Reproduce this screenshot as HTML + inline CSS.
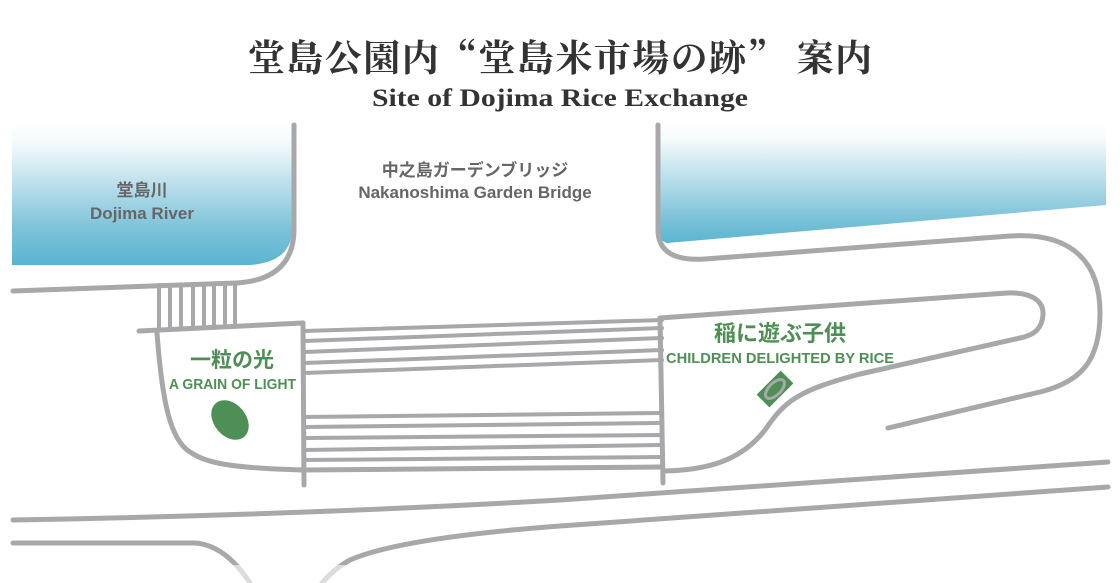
<!DOCTYPE html>
<html><head><meta charset="utf-8"><style>
html,body{margin:0;padding:0;background:#fff;}
svg{display:block;}
</style></head><body>
<svg width="1120" height="583" viewBox="0 0 1120 583" xmlns="http://www.w3.org/2000/svg">
<defs>
<linearGradient id="rv" x1="0" y1="0" x2="0" y2="1">
<stop offset="0" stop-color="#ffffff"/>
<stop offset="0.15" stop-color="#f4fafc"/>
<stop offset="0.75" stop-color="#7cc2d9"/>
<stop offset="1" stop-color="#5ab4d0"/>
</linearGradient>
<linearGradient id="rv2" x1="0" y1="0" x2="0" y2="1">
<stop offset="0" stop-color="#ffffff"/>
<stop offset="0.15" stop-color="#f4fafc"/>
<stop offset="0.8" stop-color="#7cc2d9"/>
<stop offset="1" stop-color="#5ab4d0"/>
</linearGradient>
</defs>
<path d="M12,122 L292,122 L292,232 Q290,262 250,265 L12,265 Z" fill="url(#rv)"/>
<path d="M658,122 L1106,122 L1106,205 L667,243 Q658,240 658,232 Z" fill="url(#rv2)"/>

<g fill="none" stroke="#a8a8ab" stroke-width="5" stroke-linecap="round" stroke-linejoin="round">
<path d="M294,125 L294,232 Q292,280 236,283 L13,291"/>
<g stroke-width="4">
<line x1="159" y1="285" x2="159" y2="328"/>
<line x1="170" y1="285" x2="170" y2="328"/>
<line x1="181" y1="285" x2="181" y2="328"/>
<line x1="193" y1="285" x2="193" y2="328"/>
<line x1="204" y1="285" x2="204" y2="328"/>
<line x1="214" y1="285" x2="214" y2="328"/>
<line x1="225" y1="284" x2="225" y2="327"/>
<line x1="235" y1="284" x2="235" y2="327"/>
</g>
<path d="M139,331 L303,323"/>
<path d="M157,333 C162,400 170,440 190,452 C205,462 225,468 303,470"/>
<line x1="303" y1="323" x2="304" y2="485"/>
<g stroke-width="4">
<line x1="304" y1="331" x2="662" y2="320"/>
<line x1="304" y1="341" x2="662" y2="328"/>
<line x1="304" y1="352" x2="662" y2="338"/>
<line x1="304" y1="363" x2="662" y2="350"/>
<line x1="304" y1="373" x2="662" y2="360"/>
<line x1="304" y1="417" x2="662" y2="413"/>
<line x1="304" y1="427" x2="662" y2="423"/>
<line x1="304" y1="438" x2="662" y2="435"/>
<line x1="304" y1="450" x2="662" y2="445"/>
<line x1="304" y1="460" x2="662" y2="457"/>
</g>
<line x1="304" y1="470" x2="662" y2="467"/>
<line x1="660" y1="318" x2="663" y2="483"/>
<path d="M660,318 L1007,293 C1030,292 1044,300 1043,315 C1042,328 1035,335 1020,338 L860,374 C800,390 785,400 765,430 C740,462 705,470 665,471"/>
<path d="M658,125 L658,232 Q660,262 705,259 L1010,236 C1075,232 1100,265 1100,313 C1100,362 1080,382 1040,392 L888,428"/>
<path d="M13,520 Q300,515 560,500 L1108,462"/>
<path d="M1108,487 L560,526 Q400,538 350,560 Q335,568 322,583"/>
<path d="M13,543 L195,543 Q225,545 250,583"/>
</g>
<rect x="0" y="565" width="1120" height="18" fill="#fff" opacity="0.6"/>

<ellipse cx="230" cy="420" rx="16" ry="22" transform="rotate(-40 230 420)" fill="#4e8f55"/>
<g transform="rotate(-45 775 389)">
<rect x="758" y="380" width="34" height="18" fill="#4e8f55"/>
<ellipse cx="775" cy="389" rx="12" ry="6" fill="none" stroke="#a8a8ab" stroke-width="3"/>
</g>

<text x="248" y="71" textLength="624" lengthAdjust="spacing" font-family="'Noto Serif CJK SC','Liberation Serif',serif" font-weight="bold" font-size="37" fill="#333">堂島公園内“堂島米市場の跡” 案内</text>
<text x="372" y="106" textLength="376" lengthAdjust="spacingAndGlyphs" font-family="'Liberation Serif',serif" font-weight="bold" font-size="25" fill="#333">Site of  Dojima Rice Exchange</text>

<g font-family="'Liberation Sans','Noto Sans CJK JP',sans-serif" fill="#666668" text-anchor="middle" font-size="17" font-weight="bold">
<text x="142" y="196">堂島川</text>
<text x="142" y="219">Dojima River</text>
<text x="475" y="176">中之島ガーデンブリッジ</text>
<text x="475" y="198">Nakanoshima Garden Bridge</text>
</g>
<g font-family="'Liberation Sans','Noto Sans CJK JP',sans-serif" fill="#4e8f55" font-weight="bold">
<text x="232" y="367" font-size="21" text-anchor="middle">一粒の光</text>
<text x="169" y="389" font-size="15" textLength="127" lengthAdjust="spacingAndGlyphs">A GRAIN OF LIGHT</text>
<text x="780" y="341" font-size="22" text-anchor="middle">稲に遊ぶ子供</text>
<text x="666" y="363" font-size="15" textLength="228" lengthAdjust="spacingAndGlyphs">CHILDREN DELIGHTED BY RICE</text>
</g>
</svg>
</body></html>
